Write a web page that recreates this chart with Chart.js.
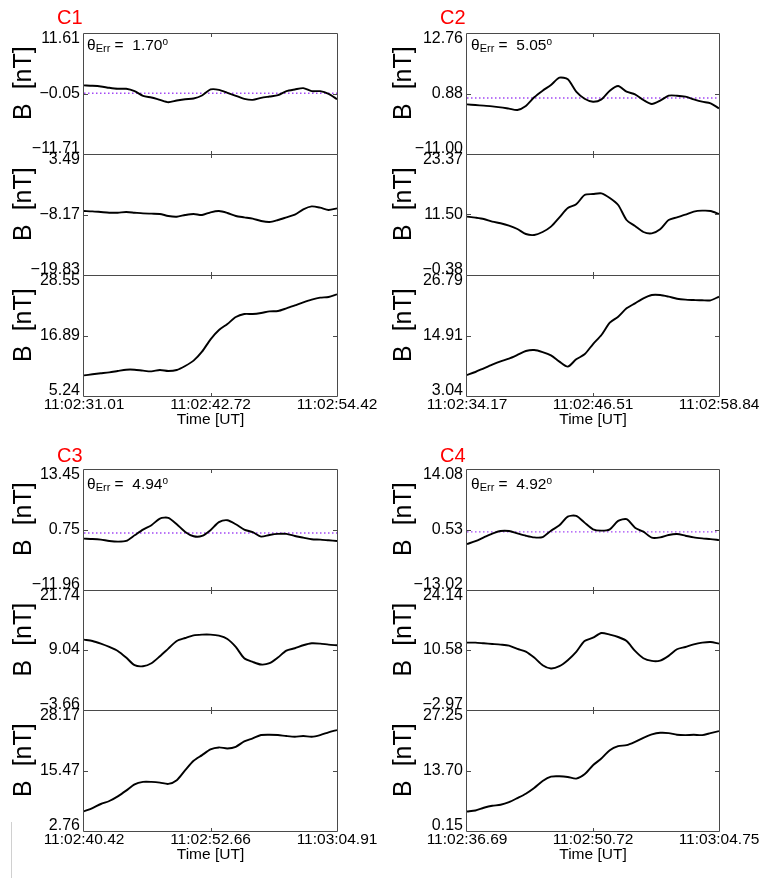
<!DOCTYPE html>
<html><head><meta charset="utf-8">
<script src="https://cdn.jsdelivr.net/npm/chart.js@4.4.1/dist/chart.umd.min.js"></script>
<style>
body{margin:0;background:#fff;}
#wrap{position:relative;width:764px;height:878px;overflow:hidden;font-family:"Liberation Sans",Arial,Helvetica,sans-serif;}
#wrap canvas{position:absolute;}
.cl{position:absolute;color:#f00;font-size:20px;line-height:20px;}
.th{position:absolute;font-size:15.5px;line-height:15px;white-space:pre;color:#000;}
.th sub{font-size:11px;vertical-align:-2px;line-height:0;}
.th sup{font-size:10px;vertical-align:5px;line-height:0;}
.stray{position:absolute;left:11px;top:822px;width:1px;height:56px;background:#d0d0d0;}
</style></head>
<body><div id="wrap"><div class="stray"></div></div>
<script>
// ---------------- DATA ----------------
const spacecraft = ['C1','C2','C3','C4'];
const thetaErr = ['1.70','5.05','4.94','4.92'];
const refLevel = 0;

const c1Time = [31.01,31.79,32.57,33.35,34.13,34.91,35.69,36.47,37.25,38.03,38.81,39.59,40.37,41.15,41.93,42.72,43.50,44.28,45.06,45.84,46.62,47.40,48.18,48.96,49.74,50.52,51.30,52.08,52.86,53.64,54.42];
const c1B1 = [1.51,1.44,1.31,1.05,0.86,0.86,0.40,-0.50,-0.83,-1.28,-1.73,-1.41,-1.15,-1.02,-0.44,0.73,0.66,0.08,-0.50,-1.08,-1.28,-0.89,-0.63,-0.37,0.40,0.73,0.99,0.40,0.40,-0.11,-1.15];
const c1B2 = [-7.50,-7.56,-7.69,-7.82,-7.82,-7.69,-7.82,-7.95,-8.01,-8.07,-8.46,-8.59,-8.27,-8.07,-8.27,-7.75,-7.50,-7.88,-8.46,-8.72,-8.97,-9.42,-9.62,-9.23,-8.72,-8.20,-7.17,-6.60,-6.85,-7.30,-6.98];
const c1B3 = [9.22,9.42,9.61,9.80,10.06,10.31,10.31,10.12,9.99,10.25,10.06,10.25,11.02,12.05,13.78,16.16,17.95,19.11,20.46,21.04,21.04,21.23,21.55,21.61,22.13,22.70,23.28,23.80,24.18,24.31,24.82];
const c1YTicks = [[11.61,-0.05,-11.71],[3.49,-8.17,-19.83],[28.55,16.89,5.24]];
const c1XTicks = ['11:02:31.01','11:02:42.72','11:02:54.42'];

const c2Time = [34.17,34.99,35.81,36.64,37.46,38.28,39.10,39.93,40.75,41.57,42.39,43.22,44.04,44.86,45.68,46.51,47.33,48.15,48.97,49.79,50.62,51.44,52.26,53.08,53.91,54.73,55.55,56.37,57.19,58.02,58.84];
const c2B1 = [-1.25,-1.38,-1.51,-1.64,-1.84,-2.10,-2.36,-1.58,0.13,1.43,2.55,3.99,3.66,1.24,-0.14,-0.73,-0.27,1.43,2.35,1.24,0.71,-0.40,-1.18,-0.53,0.45,0.45,0.26,-0.27,-0.73,-1.05,-2.03];
const c2B2 = [11.07,10.88,10.62,10.09,9.77,9.31,8.65,7.67,7.48,8.06,9.11,10.94,12.77,13.49,15.33,15.52,15.65,14.74,13.36,10.42,9.24,8.06,7.80,8.59,10.42,10.94,11.47,12.06,12.25,12.19,11.60];
const c2B3 = [7.16,7.75,8.47,9.19,9.84,10.37,11.09,11.87,12.07,11.67,11.02,9.78,8.80,10.24,11.22,13.24,15.01,17.43,18.61,20.25,21.23,22.21,22.86,22.86,22.54,22.14,21.95,21.88,21.82,21.82,22.54];
const c2YTicks = [[12.76,0.88,-11.00],[23.37,11.50,-0.38],[26.79,14.91,3.04]];
const c2XTicks = ['11:02:34.17','11:02:46.51','11:02:58.84'];

const c3Time = [40.42,41.24,42.05,42.87,43.69,44.50,45.32,46.13,46.95,47.77,48.58,49.40,50.22,51.03,51.85,52.66,53.48,54.30,55.11,55.93,56.75,57.56,58.38,59.19,60.01,60.83,61.64,62.46,63.28,64.09,64.91];
const c3B1 = [-1.17,-1.24,-1.38,-1.66,-1.80,-1.66,-0.47,0.73,1.64,3.05,3.19,1.85,0.24,-0.68,-0.61,0.59,2.28,2.70,1.85,0.73,0.17,-0.75,-0.40,-0.18,-0.18,-0.61,-0.96,-1.31,-1.38,-1.52,-1.66];
const c3B2 = [11.23,10.95,10.39,9.69,8.84,7.44,5.82,5.61,6.24,7.72,9.33,10.95,11.58,12.15,12.29,12.29,12.07,11.37,9.69,7.30,6.52,5.96,6.24,7.44,8.91,9.41,10.04,10.46,10.39,10.18,10.04];
const c3B3 = [6.88,7.58,8.43,9.06,10.04,11.24,12.57,13.07,13.07,12.93,12.65,13.42,15.53,17.50,18.69,19.89,20.31,20.10,20.45,21.57,22.21,22.91,22.98,22.91,22.70,22.56,22.70,22.56,22.91,23.47,23.96];
const c3YTicks = [[13.45,0.75,-11.96],[21.74,9.04,-3.66],[28.17,15.47,2.76]];
const c3XTicks = ['11:02:40.42','11:02:52.66','11:03:04.91'];

const c4Time = [36.69,37.63,38.56,39.50,40.43,41.37,42.30,43.24,44.17,45.11,46.04,46.98,47.91,48.85,49.78,50.72,51.65,52.59,53.52,54.46,55.40,56.33,57.27,58.20,59.14,60.07,61.01,61.94,62.88,63.81,64.75];
const c4B1 = [-2.74,-2.07,-1.24,-0.41,0.19,0.19,-0.34,-0.86,-1.24,-1.16,0.27,1.47,3.43,3.58,2.07,0.57,0.27,0.57,2.45,2.83,0.94,0.04,-1.31,-1.24,-0.71,-0.49,-0.86,-1.24,-1.46,-1.62,-1.84];
const c4B2 = [12.25,12.25,12.10,11.95,11.80,11.57,10.82,10.22,8.87,7.15,6.40,6.92,8.27,10.15,12.62,13.37,14.42,14.05,13.52,12.62,10.37,8.72,8.12,8.20,9.25,10.75,11.27,11.87,12.25,12.40,12.02];
const c4B3 = [4.53,4.75,5.35,5.80,6.03,6.63,7.53,8.50,9.78,11.35,12.33,12.40,12.25,11.88,12.85,14.88,16.38,18.25,19.15,19.38,20.13,21.03,21.78,22.15,22.08,21.70,21.63,21.70,21.63,22.08,22.53];
const c4YTicks = [[14.08,0.53,-13.02],[24.14,10.58,-2.97],[27.25,13.70,0.15]];
const c4XTicks = ['11:02:36.69','11:02:50.72','11:03:04.75'];

// ---------------- LAYOUT ----------------
const panels = [
  {time:c1Time, series:[c1B1,c1B2,c1B3], yTicks:c1YTicks, xTicks:c1XTicks},
  {time:c2Time, series:[c2B1,c2B2,c2B3], yTicks:c2YTicks, xTicks:c2XTicks},
  {time:c3Time, series:[c3B1,c3B2,c3B3], yTicks:c3YTicks, xTicks:c3XTicks},
  {time:c4Time, series:[c4B1,c4B2,c4B3], yTicks:c4YTicks, xTicks:c4XTicks}
];
const geom = [
  {canvasLeft:0,   axisW:84, plotW:253, tops:[33,154,275,396], lab:[57,7],   th:[87,37]},
  {canvasLeft:380, axisW:87, plotW:252, tops:[33,154,275,396], lab:[440,7],  th:[471,37]},
  {canvasLeft:0,   axisW:84, plotW:253, tops:[469,590,710,831], lab:[57,445], th:[87,476]},
  {canvasLeft:380, axisW:87, plotW:252, tops:[469,590,710,831], lab:[440,445],th:[471,476]}
];

Chart.defaults.font.family = "'Liberation Sans', Arial, Helvetica, sans-serif";
Chart.defaults.color = '#000';

const fmt = v => v.toFixed(2).replace('-', '\u2212');

const framePlugin = {
  id: 'frame',
  afterDatasetsDraw(chart) {
    const {ctx, chartArea: a, scales: {x, y}} = chart;
    ctx.save();
    ctx.strokeStyle = '#4a4a4a';
    ctx.lineWidth = 1;
    ctx.beginPath();
    ctx.moveTo(a.left - 0.5, a.top + 0.5); ctx.lineTo(a.right + 0.5, a.top + 0.5);
    ctx.lineTo(a.right + 0.5, a.bottom + 0.5); ctx.lineTo(a.left - 0.5, a.bottom + 0.5);
    ctx.closePath();
    const xm = Math.round(x.getPixelForValue((x.min + x.max) / 2)) + 0.5;
    const ym = Math.round(y.getPixelForValue((y.min + y.max) / 2)) + 0.5;
    ctx.moveTo(xm, a.top); ctx.lineTo(xm, a.top + 4);
    ctx.moveTo(xm, a.bottom + 1); ctx.lineTo(xm, a.bottom - 3);
    ctx.moveTo(a.left, ym); ctx.lineTo(a.left + 4, ym);
    ctx.moveTo(a.right, ym); ctx.lineTo(a.right - 4, ym);
    ctx.stroke();
    ctx.restore();
  }
};

const wrap = document.getElementById('wrap');

panels.forEach((p, pi) => {
  const g = geom[pi];
  const n = p.time.length;
  const t0 = p.time[0], t1 = p.time[n - 1];
  for (let k = 0; k < 3; k++) {
    const top = g.tops[k], h = g.tops[k + 1] - top;
    const isBottom = k === 2;
    const PT = 20, PR = 50, PB = isBottom ? 0 : 20, XH = isBottom ? 40 : 0;
    const cv = document.createElement('canvas');
    cv.width = g.axisW + g.plotW + PR;
    cv.height = PT + h + PB + XH;
    cv.style.left = g.canvasLeft + 'px';
    cv.style.top = (top - PT) + 'px';
    cv.style.width = cv.width + 'px';
    cv.style.height = cv.height + 'px';
    wrap.appendChild(cv);

    const yt = p.yTicks[k];
    const datasets = [{
      data: p.time.map((t, i) => ({x: t, y: p.series[k][i]})),
      borderColor: '#000', borderWidth: 1.9, pointRadius: 0, tension: 0.25, fill: false
    }];
    if (k === 0) {
      datasets.push({
        data: [{x: t0, y: refLevel}, {x: t1, y: refLevel}],
        borderColor: '#a347f5', borderWidth: 1.4, borderDash: [1.5, 2.5], pointRadius: 0, fill: false
      });
    }

    new Chart(cv, {
      type: 'line',
      data: {datasets},
      plugins: [framePlugin],
      options: {
        responsive: false, animation: false, events: [],
        layout: {padding: {left: 0, top: PT, right: PR, bottom: PB}},
        plugins: {legend: {display: false}, tooltip: {enabled: false}, title: {display: false}},
        scales: {
          x: {
            type: 'linear', min: t0, max: t1, display: isBottom,
            grid: {display: false, drawTicks: false, tickLength: 0},
            border: {display: false},
            afterBuildTicks: s => { s.ticks = [t0, (t0 + t1) / 2, t1].map(v => ({value: v})); },
            afterFit: s => { s.height = XH; },
            ticks: {autoSkip: false, maxRotation: 0, minRotation: 0, padding: -1,
                    font: {size: 15.5}, color: '#000',
                    callback: (v, i) => p.xTicks[i]},
            title: {display: true, text: 'Time [UT]', font: {size: 15.5}, color: '#000',
                    padding: {top: 0, bottom: 7}}
          },
          y: {
            type: 'linear', position: 'left', min: yt[2], max: yt[0],
            grid: {display: false, drawTicks: false, tickLength: 0},
            border: {display: false},
            afterBuildTicks: s => { s.ticks = [yt[2], yt[1], yt[0]].map(v => ({value: v})); },
            afterFit: s => { s.width = g.axisW; },
            ticks: {autoSkip: false, padding: 4, font: {size: 16, lineHeight: 0.7}, color: '#000',
                    callback: (v, i) => {
                      const idx = 2 - i;
                      const s = fmt(yt[idx]);
                      if (i === 0) return [s, ''];
                      if (i === 2) return ['', s];
                      return s;
                    }},
            title: {display: true, text: '   B  [nT]', font: {size: 25}, color: '#000',
                    padding: {top: 9, bottom: 0}}
          }
        }
      }
    });
  }
  const lab = document.createElement('div');
  lab.className = 'cl';
  lab.style.left = g.lab[0] + 'px'; lab.style.top = g.lab[1] + 'px';
  lab.textContent = spacecraft[pi];
  wrap.appendChild(lab);

  const th = document.createElement('div');
  th.className = 'th';
  th.style.left = g.th[0] + 'px'; th.style.top = g.th[1] + 'px';
  th.innerHTML = '\u03B8<sub>Err</sub> =  ' + thetaErr[pi] + '<sup>o</sup>';
  wrap.appendChild(th);
});
</script>
</body></html>
